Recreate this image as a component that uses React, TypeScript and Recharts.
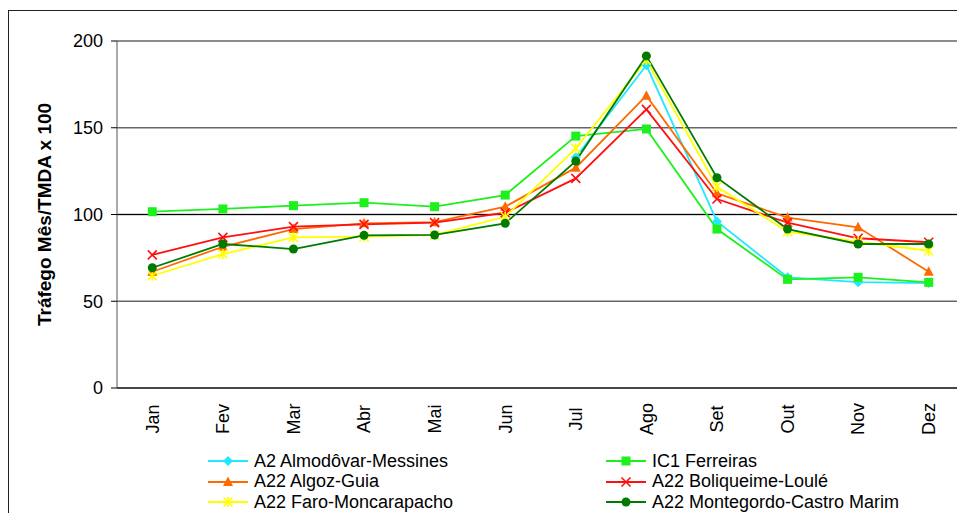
import { LineChart, Line, XAxis, YAxis, CartesianGrid, Legend, ReferenceLine } from 'recharts'

const FONT = 'Arial, "Liberation Sans", sans-serif'

const months = ['Jan', 'Fev', 'Mar', 'Abr', 'Mai', 'Jun', 'Jul', 'Ago', 'Set', 'Out', 'Nov', 'Dez']

// monthly traffic / annual average daily traffic x 100
const almodovarMessines = [null, null, null, null, null, null, 133, 186, 96, 63.8, 61, 60.5]
const ic1Ferreiras = [101.6, 103.2, 105.1, 106.8, 104.5, 111.2, 145.2, 149.3, 91.6, 62.6, 63.8, 60.9]
const algozGuia = [67, 81.4, 91.6, 94.9, 95.6, 104.5, 127, 168.5, 112.2, 98.2, 92.6, 67]
const boliqueimeLoule = [76.7, 86.8, 93, 94.3, 95.3, 101, 120.8, 160.6, 108.9, 95.3, 86.3, 84]
const faroMoncarapacho = [64.7, 77.2, 86.8, 87.2, 88.2, 98.7, 138.1, 189, 116, 90.1, 84.3, 79.1]
const montegordoCastroMarim = [69.3, 83, 80.1, 88, 88.2, 94.9, 130.8, 191.4, 121.2, 91.6, 83, 83]

const yTicks = [0, 50, 100, 150, 200]

type Shape = 'diamond' | 'square' | 'triangle' | 'cross' | 'star' | 'circle'

const series: { key: string; name: string; color: string; shape: Shape; values: (number | null)[] }[] = [
  { key: 'almodovar', name: 'A2 Almodôvar-Messines', color: '#22E8FF', shape: 'diamond', values: almodovarMessines },
  { key: 'ferreiras', name: 'IC1 Ferreiras', color: '#1EF01E', shape: 'square', values: ic1Ferreiras },
  { key: 'algoz', name: 'A22 Algoz-Guia', color: '#FF6A00', shape: 'triangle', values: algozGuia },
  { key: 'boliqueime', name: 'A22 Boliqueime-Loulé', color: '#FF1010', shape: 'cross', values: boliqueimeLoule },
  { key: 'faro', name: 'A22 Faro-Moncarapacho', color: '#FFFF00', shape: 'star', values: faroMoncarapacho },
  { key: 'montegordo', name: 'A22 Montegordo-Castro Marim', color: '#007A00', shape: 'circle', values: montegordoCastroMarim },
]

const data = months.map((m, i) => {
  const row: Record<string, any> = { idx: i, month: m }
  series.forEach(s => { row[s.key] = s.values[i] })
  return row
})

const labelTicks = months.map((_, i) => i)
const edgeTicks = [...months.map((_, i) => i - 0.5), months.length - 0.5]

function Marker({ shape, color, cx, cy }: { shape: Shape; color: string; cx: number; cy: number }) {
  switch (shape) {
    case 'diamond':
      return <path d={`M${cx},${cy - 5}L${cx + 5},${cy}L${cx},${cy + 5}L${cx - 5},${cy}Z`} fill={color} />
    case 'square':
      return <rect x={cx - 4.5} y={cy - 4.5} width={9} height={9} fill={color} />
    case 'triangle':
      return <path d={`M${cx},${cy - 5.5}L${cx + 5},${cy + 4}L${cx - 5},${cy + 4}Z`} fill={color} />
    case 'cross':
      return <path d={`M${cx - 4.5},${cy - 4.5}L${cx + 4.5},${cy + 4.5}M${cx + 4.5},${cy - 4.5}L${cx - 4.5},${cy + 4.5}`} stroke={color} strokeWidth={1.6} />
    case 'star':
      return <path d={`M${cx - 4.5},${cy - 4.5}L${cx + 4.5},${cy + 4.5}M${cx + 4.5},${cy - 4.5}L${cx - 4.5},${cy + 4.5}M${cx},${cy - 5}L${cx},${cy + 5}`} stroke={color} strokeWidth={1.6} />
    default:
      return <circle cx={cx} cy={cy} r={4.5} fill={color} />
  }
}

function MonthTick({ x, y, payload }: any) {
  const ty = y + 23
  return (
    <text x={x} y={ty} dy="0.35em" transform={`rotate(-90 ${x} ${ty})`} textAnchor="middle"
      fontFamily={FONT} fontSize={18} fill="#000">
      {months[payload.value]}
    </text>
  )
}

function LegendGrid() {
  return (
    <div style={{ display: 'grid', gridTemplateColumns: '398px auto', fontFamily: FONT, fontSize: 18, color: '#000' }}>
      {series.map(s => (
        <div key={s.key} style={{ display: 'flex', alignItems: 'center', height: 20.5, whiteSpace: 'nowrap' }}>
          <svg width={40} height={14} style={{ flexShrink: 0 }}>
            <line x1={0} y1={7} x2={40} y2={7} stroke={s.color} strokeWidth={2} />
            <Marker shape={s.shape} color={s.color} cx={20} cy={7} />
          </svg>
          <span style={{ marginLeft: 6 }}>{s.name}</span>
        </div>
      ))}
    </div>
  )
}

export default function App() {
  return (
    <div style={{ position: 'relative', width: 957, height: 505, overflow: 'hidden', background: '#fff' }}>
      <div style={{ position: 'absolute', left: 0, top: 2, width: 1000, height: 600, border: '1px solid #222', boxSizing: 'border-box' }} />
      <LineChart width={957} height={505} data={data} margin={{ top: 33, right: 1, bottom: 57, left: 0 }}
        style={{ position: 'absolute', left: 0, top: 0 }}>
        <CartesianGrid horizontal vertical={false} stroke="#666" strokeWidth={1.5} />
        <ReferenceLine y={100} xAxisId="months" stroke="#000" strokeWidth={1} />
        {/* category boundary ticks sit right under the plot */}
        <XAxis xAxisId={0} type="number" domain={[-0.5, months.length - 0.5]} ticks={edgeTicks}
          tick={false} tickSize={7} tickLine={{ stroke: '#000' }} axisLine={{ stroke: '#000' }} height={8} />
        <XAxis xAxisId="months" dataKey="idx" type="number" domain={[-0.5, months.length - 0.5]} ticks={labelTicks}
          interval={0} tick={<MonthTick />} tickLine={false} axisLine={false} tickSize={0} tickMargin={0} height={60} />
        <YAxis domain={[0, 200]} ticks={yTicks} width={109} tickSize={6} tickMargin={8}
          tickLine={{ stroke: '#000' }} axisLine={{ stroke: '#555' }}
          tick={{ fontFamily: FONT, fontSize: 18, fill: '#000' }}
          label={{ value: 'Tráfego Mês/TMDA x 100', angle: -90, position: 'insideLeft', offset: 36,
            style: { textAnchor: 'middle', fontFamily: FONT, fontWeight: 'bold', fontSize: 19, fill: '#000' } }} />
        <Legend layout="vertical" verticalAlign="middle" align="center" content={<LegendGrid />}
          wrapperStyle={{ left: 200, top: 443, width: 757 }} />
        {series.map(s => (
          <Line key={s.key} xAxisId="months" dataKey={s.key} name={s.name} stroke={s.color} strokeWidth={1.8}
            isAnimationActive={false}
            dot={(p: any) => (p.cx == null || p.cy == null || p.value == null)
              ? <g key={`${s.key}-${p.index}`} />
              : <g key={`${s.key}-${p.index}`}><Marker shape={s.shape} color={s.color} cx={p.cx} cy={p.cy} /></g>}
            activeDot={false} />
        ))}
      </LineChart>
    </div>
  )
}
